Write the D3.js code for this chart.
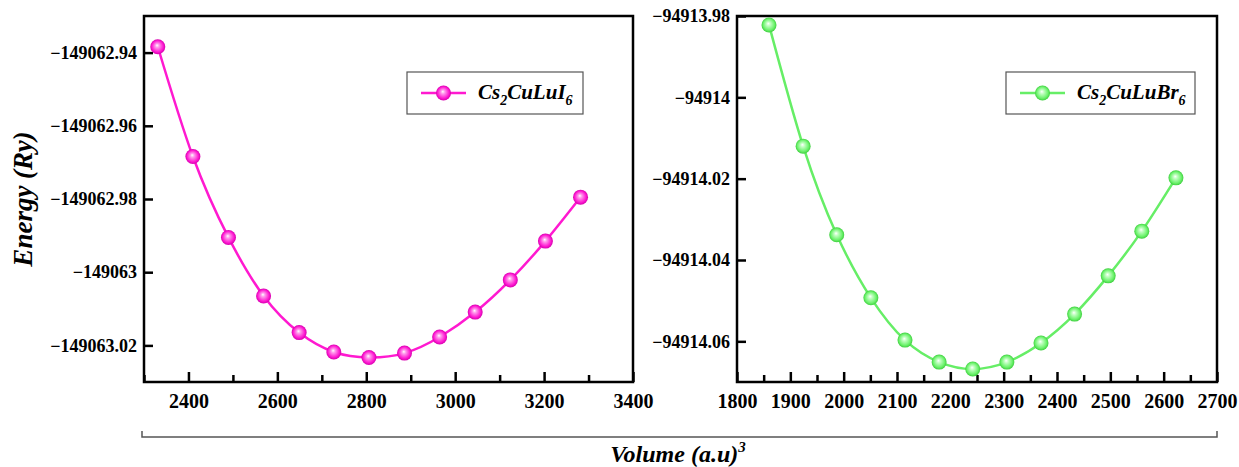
<!DOCTYPE html>
<html>
<head>
<meta charset="utf-8">
<script src="https://cdn.jsdelivr.net/npm/d3@7"></script>
</head>
<body style="margin:0">
<script>
// ---- data ----
const iodideVolume = [2331, 2410, 2490, 2569, 2649, 2727, 2806, 2886, 2965, 3045, 3124, 3203, 3282];
const iodideEnergy = [-149062.9384, -149062.9684, -149062.9905, -149063.0065, -149063.0165, -149063.0218,
                      -149063.0233, -149063.0221, -149063.0177, -149063.0109, -149063.0021, -149062.9915, -149062.9795];
const bromideVolume = [1860, 1924, 1987, 2051, 2115, 2179, 2242, 2306, 2370, 2433, 2496, 2559, 2623];
const bromideEnergy = [-94913.9822, -94914.0120, -94914.0338, -94914.0493, -94914.0597, -94914.0651,
                       -94914.0668, -94914.0651, -94914.0604, -94914.0533, -94914.0439, -94914.0329, -94914.0198];

const iodideYTicks = [-149062.94, -149062.96, -149062.98, -149063, -149063.02];
const iodideYLabels = ["\u2212149062.94", "\u2212149062.96", "\u2212149062.98", "\u2212149063", "\u2212149063.02"];
const bromideYTicks = [-94913.98, -94914, -94914.02, -94914.04, -94914.06];
const bromideYLabels = ["\u221294913.98", "\u221294914", "\u221294914.02", "\u221294914.04", "\u221294914.06"];

const iodideXMajor = [2400, 2600, 2800, 3000, 3200, 3400];
const iodideXMinor = [2300, 2500, 2700, 2900, 3100, 3300];
const bromideXMajor = [1800, 1900, 2000, 2100, 2200, 2300, 2400, 2500, 2600, 2700];
const bromideXMinor = [1850, 1950, 2050, 2150, 2250, 2350, 2450, 2550, 2650];

const width = 1239, height = 467;
const FONT = "Liberation Serif";

const svg = d3.select("body")
  .append("svg")
  .attr("width", width)
  .attr("height", height);

const defs = svg.append("defs");

function sphereGradient(id, light, base, dark) {
  const g = defs.append("radialGradient")
    .attr("id", id)
    .attr("cx", "50%").attr("cy", "50%").attr("r", "50%")
    .attr("fx", "45%").attr("fy", "40%");
  g.append("stop").attr("offset", "0%").attr("stop-color", "#ffffff");
  g.append("stop").attr("offset", "25%").attr("stop-color", light);
  g.append("stop").attr("offset", "75%").attr("stop-color", base);
  g.append("stop").attr("offset", "100%").attr("stop-color", dark);
}
sphereGradient("ballPink", "#ff9cec", "#ff1ad2", "#d600ae");
sphereGradient("ballGreen", "#c4ffc4", "#6cf26c", "#3fcf3f");

var config1 = {
  left: 144, top: 16, width: 489, height: 366,
  xDomain: [2300, 3400], yDomain: [-149063.03, -149062.93],
  xMajor: iodideXMajor, xMinor: iodideXMinor,
  yTicks: iodideYTicks, yLabels: iodideYLabels,
  xs: iodideVolume, ys: iodideEnergy,
  color: "#ff19d0", ball: "url(#ballPink)",
  legend: {x: 407, y: 72, w: 176, h: 42, name: ["Cs", "2", "CuLuI", "6"]}
};

var config2 = {
  left: 737, top: 16, width: 480, height: 366,
  xDomain: [1800, 2700], yDomain: [-94914.07, -94913.98],
  xMajor: bromideXMajor, xMinor: bromideXMinor,
  yTicks: bromideYTicks, yLabels: bromideYLabels,
  xs: bromideVolume, ys: bromideEnergy,
  color: "#66ee66", ball: "url(#ballGreen)",
  legend: {x: 1006, y: 72, w: 189, h: 42, name: ["Cs", "2", "CuLuBr", "6"]}
};

drawPanel(config1);
drawPanel(config2);

function drawPanel(cfg) {
  const plot = svg.append("g")
    .attr("transform", "translate(" + [cfg.left, cfg.top] + ")");

  const x = d3.scaleLinear().domain(cfg.xDomain).range([0, cfg.width]);
  const y = d3.scaleLinear().domain(cfg.yDomain).range([cfg.height, 0]);

  // minor x ticks
  const xMinorG = plot.append("g")
    .attr("transform", "translate(0," + cfg.height + ")")
    .call(d3.axisBottom(x).tickValues(cfg.xMinor).tickSize(-7).tickFormat(""));
  xMinorG.select(".domain").remove();
  xMinorG.selectAll("text").remove();
  xMinorG.selectAll("line").attr("stroke", "#000").attr("stroke-width", 2.5);

  // major x ticks
  const xAxisG = plot.append("g")
    .attr("transform", "translate(0," + cfg.height + ")")
    .call(d3.axisBottom(x).tickValues(cfg.xMajor).tickSize(-10).tickPadding(12).tickFormat(d3.format("d")));
  xAxisG.select(".domain").remove();
  xAxisG.selectAll("line").attr("stroke", "#000").attr("stroke-width", 2.5);
  xAxisG.selectAll("text")
    .attr("fill", "#000")
    .attr("font-family", FONT)
    .attr("font-weight", "bold")
    .attr("font-size", 20);

  // y ticks
  const yAxisG = plot.append("g")
    .call(d3.axisLeft(y).tickValues(cfg.yTicks).tickSize(-9).tickPadding(7)
      .tickFormat((d, i) => cfg.yLabels[i]));
  yAxisG.select(".domain").remove();
  yAxisG.selectAll("line").attr("stroke", "#000").attr("stroke-width", 2.5);
  yAxisG.selectAll("text")
    .attr("fill", "#000")
    .attr("font-family", FONT)
    .attr("font-weight", "bold")
    .attr("font-size", 18);

  // frame
  plot.append("rect")
    .attr("width", cfg.width)
    .attr("height", cfg.height)
    .attr("fill", "none")
    .attr("stroke", "#000")
    .attr("stroke-width", 2.5);

  const pts = cfg.xs.map((v, i) => [v, cfg.ys[i]]);

  const line = d3.line()
    .x(d => x(d[0]))
    .y(d => y(d[1]))
    .curve(d3.curveNatural);

  plot.append("path")
    .datum(pts)
    .attr("d", line)
    .attr("fill", "none")
    .attr("stroke", cfg.color)
    .attr("stroke-width", 2.5);

  plot.append("g")
    .selectAll("circle")
    .data(pts)
    .enter().append("circle")
      .attr("cx", d => x(d[0]))
      .attr("cy", d => y(d[1]))
      .attr("r", 7.5)
      .attr("fill", cfg.ball);

  // legend
  const lg = cfg.legend;
  const leg = svg.append("g").attr("transform", "translate(" + [lg.x, lg.y] + ")");
  leg.append("rect")
    .attr("width", lg.w).attr("height", lg.h)
    .attr("fill", "#fff")
    .attr("stroke", "#555")
    .attr("stroke-width", 1.2);
  leg.append("line")
    .attr("x1", 14).attr("x2", 59)
    .attr("y1", lg.h / 2).attr("y2", lg.h / 2)
    .attr("stroke", cfg.color)
    .attr("stroke-width", 2.5);
  leg.append("circle")
    .attr("cx", 36.5).attr("cy", lg.h / 2)
    .attr("r", 7.5)
    .attr("fill", cfg.ball);
  const t = leg.append("text")
    .attr("x", 71).attr("y", 27)
    .attr("font-family", FONT)
    .attr("font-weight", "bold")
    .attr("font-size", 21)
    .attr("font-style", "italic");
  t.append("tspan").text(lg.name[0]);
  t.append("tspan").attr("dy", 6).attr("font-size", 14).text(lg.name[1]);
  t.append("tspan").attr("dy", -6).text(lg.name[2]);
  t.append("tspan").attr("dy", 6).attr("font-size", 14).text(lg.name[3]);
}

// shared axis titles
svg.append("text")
  .attr("transform", "translate(32,199) rotate(-90)")
  .attr("text-anchor", "middle")
  .attr("font-family", FONT)
  .attr("font-weight", "bold")
  .attr("font-size", 27)
  .attr("font-style", "italic")
  .text("Energy (Ry)");

// bracket under both panels
svg.append("path")
  .attr("d", "M142,431V437H1217V431")
  .attr("fill", "none")
  .attr("stroke", "#555")
  .attr("stroke-width", 1.5);

const xt = svg.append("text")
  .attr("x", 678).attr("y", 462)
  .attr("text-anchor", "middle")
  .attr("font-family", FONT)
  .attr("font-weight", "bold")
  .attr("font-size", 24)
  .attr("font-style", "italic");
xt.append("tspan").text("Volume (a.u)");
xt.append("tspan").attr("dy", -10).attr("font-size", 15).text("3");
</script>
</body>
</html>
